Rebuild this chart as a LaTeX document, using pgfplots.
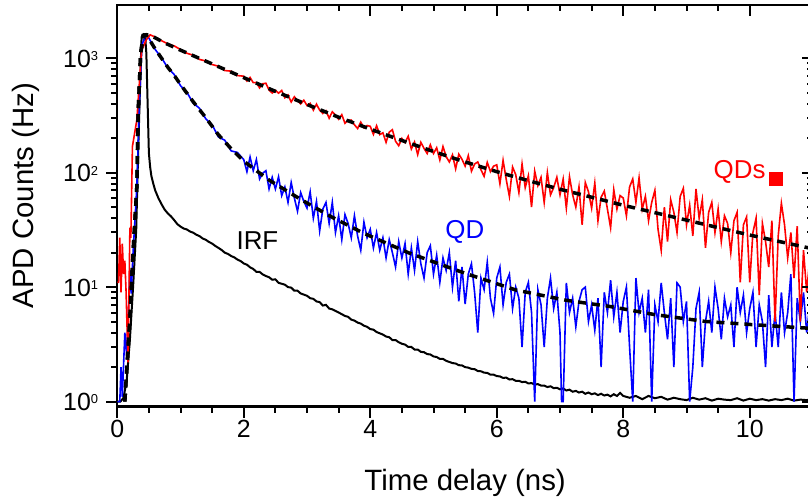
\documentclass[border=0pt]{standalone}
\usepackage{fontspec}
\setmainfont{Liberation Sans}
\usepackage{pgfplots}
\pgfplotsset{compat=1.18}
\newcommand{\tp}[1]{10\raisebox{6.6bp}{\fontsize{13}{13}\selectfont #1}}
\begin{document}
\begin{tikzpicture}
\begin{axis}[name=main, scale only axis, width=696bp, height=401.7bp,
 xmin=0, xmax=11, ymode=log, ymin=0.905, ymax=2915,
 xtick={0,2,4,6,8,10}, xticklabels={0,2,4,6,8,10}, minor x tick num=3,
 ytick={1,10,100,1000}, yticklabels={\tp{0},\tp{1},\tp{2},\tp{3}},
 xtick pos=left, ytick pos=left, tick align=outside,
 major tick length=11bp, minor tick length=6bp,
 every tick/.style={black, line width=2bp},
 axis line style={line width=2.3bp},
 ticklabel style={font=\fontsize{25}{25}\selectfont},
 xticklabel style={inner sep=0pt, anchor=base, yshift=-20bp},
 yticklabel style={inner sep=0pt, anchor=base east, yshift=-9bp, xshift=-8bp},
]
% IRF
\addplot[black, line width=2bp] coordinates {
(0.00,1.0)(0.05,1.0)(0.10,1.08)(0.15,1.55)(0.20,3.5)(0.25,10)(0.30,32)(0.33,148)(0.36,560)(0.385,1530)(0.42,1620)(0.44,1600)(0.46,1100)(0.48,405)(0.50,148)(0.52,112)(0.54,93)(0.57,80)(0.60,70)(0.65,60)(0.70,53)(0.75,47.5)(0.80,44)(0.85,41.5)(0.90,38.5)(0.95,35.5)
(1.00,33.8)(1.05,32.5)(1.10,31.9)(1.15,30.6)(1.20,29.9)(1.25,28.7)(1.30,27.9)(1.35,26.6)(1.40,25.9)(1.45,24.8)(1.50,24.0)(1.55,22.9)(1.60,22.0)(1.65,21.1)(1.70,20.0)(1.75,19.5)(1.80,18.7)(1.85,18.2)(1.90,17.4)(1.95,16.9)
(2.00,16.1)(2.05,15.7)(2.10,14.9)(2.15,14.4)(2.20,13.6)(2.25,13.6)(2.30,12.9)(2.35,12.5)(2.40,12.2)(2.45,11.6)(2.50,11.7)(2.55,10.9)(2.60,10.7)(2.65,10.5)(2.70,10.0)(2.75,9.9)(2.80,9.3)(2.85,9.3)(2.90,8.8)(2.95,8.6)
(3.00,8.4)(3.05,8.0)(3.10,7.9)(3.15,7.5)(3.20,7.4)(3.25,6.9)(3.30,7.0)(3.35,6.5)(3.40,6.4)(3.45,6.2)(3.50,6.0)(3.55,5.8)(3.60,5.6)(3.65,5.5)(3.70,5.2)(3.75,5.1)(3.80,4.9)(3.85,4.8)(3.90,4.6)(3.95,4.5)
(4.00,4.3)(4.05,4.25)(4.10,4.05)(4.15,3.95)(4.20,3.85)(4.25,3.7)(4.30,3.65)(4.35,3.45)(4.40,3.45)(4.45,3.3)(4.50,3.2)(4.55,3.15)(4.60,3.0)(4.65,3.0)(4.70,2.85)(4.75,2.85)(4.80,2.72)(4.85,2.7)(4.90,2.6)(4.95,2.58)
(5.00,2.48)(5.05,2.45)(5.10,2.36)(5.15,2.36)(5.20,2.27)(5.25,2.22)(5.30,2.17)(5.35,2.15)(5.40,2.08)(5.45,2.07)(5.50,2.0)(5.55,1.98)(5.60,1.93)(5.65,1.92)(5.70,1.85)(5.75,1.84)(5.80,1.79)(5.85,1.78)(5.90,1.72)(5.95,1.72)
(6.00,1.67)(6.05,1.66)(6.10,1.61)(6.15,1.62)(6.20,1.56)(6.25,1.57)(6.30,1.52)(6.35,1.52)(6.40,1.48)(6.45,1.49)(6.50,1.44)(6.55,1.45)(6.60,1.41)(6.65,1.42)(6.70,1.38)(6.75,1.38)(6.80,1.34)(6.85,1.36)(6.90,1.31)(6.95,1.32)
(7.00,1.28)(7.05,1.3)(7.10,1.25)(7.15,1.27)(7.20,1.22)(7.25,1.24)(7.30,1.2)(7.35,1.22)(7.40,1.17)(7.45,1.2)(7.50,1.16)(7.55,1.18)(7.60,1.14)(7.65,1.17)(7.70,1.13)(7.75,1.15)(7.80,1.11)(7.85,1.16)(7.90,1.12)(7.95,1.19)
(8.0,1.12)(8.1,1.08)(8.2,1.12)(8.3,1.05)(8.4,1.12)(8.5,1.07)(8.6,1.1)(8.7,1.04)(8.8,1.08)(8.9,1.05)
(9.0,1.03)(9.1,1.08)(9.2,1.04)(9.3,1.07)(9.4,1.02)(9.5,1.06)(9.6,1.04)(9.7,1.03)(9.8,1.07)(9.9,1.02)
(10.0,1.06)(10.1,1.03)(10.2,1.05)(10.3,1.02)(10.4,1.05)(10.5,1.03)(10.6,1.06)(10.7,1.02)(10.8,1.04)(10.9,1.03)(11.0,1.05)
};
% QD (blue)
\addplot[blue, line width=1.6bp] coordinates {
(0.00,1.0)(0.04,1.0)(0.06,2.0)(0.08,1.1)(0.12,4.0)(0.15,2.5)(0.20,14)(0.22,8.8)(0.25,20)(0.31,76)(0.35,400)(0.39,1300)(0.45,1600)
(0.5,1500)(0.6,1190)(0.7,1010)(0.8,820)(0.9,720)(1.0,575)(1.1,505)(1.2,405)(1.3,365)(1.4,295)(1.5,262)(1.6,205)(1.7,192)(1.8,155)(1.9,150)(2.0,130)
(2.05,102)(2.10,137)(2.15,104)(2.20,130)(2.25,88)(2.30,99)(2.35,104)(2.40,72)(2.45,91)(2.50,72)(2.55,92)(2.60,63)(2.65,75)(2.70,55)(2.75,82)(2.80,60)(2.85,46)(2.90,67)(2.95,56)
(3.00,49)(3.05,68)(3.10,40)(3.15,56)(3.20,31)(3.25,48)(3.30,55)(3.35,36)(3.40,55)(3.45,30)(3.50,42)(3.55,26)(3.60,43)(3.65,36)(3.70,27)(3.75,42)(3.80,28)(3.85,21)(3.90,37)(3.95,27)
(4.00,32)(4.05,22)(4.10,30)(4.15,21)(4.20,27)(4.25,18)(4.30,26)(4.35,20)(4.40,15)(4.45,25)(4.50,18)(4.55,24)(4.60,13)(4.65,22)(4.70,14)(4.75,25)(4.80,16)(4.85,12)(4.90,20)(4.95,23)
(5.00,13)(5.05,19)(5.10,11)(5.15,18)(5.20,14)(5.25,20)(5.30,10)(5.35,17)(5.40,7.5)(5.45,15)(5.50,7.1)(5.55,13)(5.60,16)(5.65,9)(5.70,4.0)(5.75,12)(5.80,9.5)(5.85,16.5)(5.90,8)(5.95,5.9)
(6.00,12)(6.05,15)(6.10,7)(6.15,11)(6.20,13)(6.25,6.5)(6.30,10)(6.35,8)(6.40,3.0)(6.45,9)(6.50,11)(6.55,6)(6.60,1.0)(6.65,9.5)(6.70,7)(6.75,3.0)(6.80,8)(6.85,12)(6.90,6.5)(6.95,9)
(7.00,4)(7.025,1.0)(7.05,1.0)(7.10,10.9)(7.15,6)(7.20,8)(7.25,4.5)(7.30,7.5)(7.35,9.5)(7.40,10)(7.45,5)(7.50,7)(7.55,4.2)(7.60,8)(7.65,2.0)(7.70,9)(7.75,6)(7.80,11.5)(7.85,5.5)(7.90,9)(7.95,4)
(8.00,7.5)(8.05,10)(8.10,3)(8.15,1.0)(8.20,12)(8.25,6)(8.30,8)(8.35,4)(8.40,9.5)(8.45,1.0)(8.50,7)(8.55,5)(8.60,10.9)(8.65,6)(8.70,3.5)(8.75,8)(8.80,2.0)(8.85,10.9)(8.90,10)(8.95,5)
(9.00,7.5)(9.05,1.0)(9.10,2.0)(9.15,6.5)(9.20,9)(9.25,2.0)(9.30,5)(9.35,7.5)(9.40,4)(9.45,10)(9.50,6.5)(9.55,3.5)(9.60,8)(9.65,5.5)(9.70,7)(9.75,3)(9.80,10)(9.85,6)(9.90,8.5)(9.95,4)
(10.00,6.5)(10.05,9)(10.10,3)(10.15,7)(10.20,5)(10.25,2.0)(10.30,8.5)(10.35,3)(10.40,6)(10.45,3)(10.50,9)(10.55,4)(10.60,6)(10.65,13)(10.70,1.0)(10.75,8)(10.80,5)(10.85,9)(10.90,4)(10.95,7)(11.0,5)
};
% QDs (red)
\addplot[red, line width=1.6bp] coordinates {
(0.00,11)(0.02,11)(0.04,27)(0.06,9)(0.08,24)(0.10,13)(0.12,17)(0.14,9)(0.17,2.2)(0.20,33)(0.215,27)(0.24,170)(0.31,290)(0.385,1170)(0.46,1450)(0.52,1600)
(0.6,1530)(0.7,1420)(0.8,1335)(0.9,1280)(1.0,1190)(1.1,1105)(1.2,1060)(1.3,975)(1.4,945)(1.5,880)(1.6,850)(1.7,780)(1.8,770)(1.9,705)
(2.00,696)(2.05,632)(2.10,678)(2.15,611)(2.20,613)(2.25,550)(2.30,598)(2.35,604)(2.40,527)(2.45,496)(2.50,523)(2.55,495)(2.60,522)(2.65,451)(2.70,477)(2.75,414)(2.80,460)(2.85,427)(2.90,399)(2.95,429)
(3.00,386)(3.05,403)(3.10,352)(3.15,397)(3.20,351)(3.25,329)(3.30,347)(3.35,299)(3.40,340)(3.45,319)(3.50,293)(3.55,321)(3.60,270)(3.65,286)(3.70,288)(3.75,262)(3.80,243)(3.85,276)(3.90,247)(3.95,258)
(4.00,254)(4.05,216)(4.10,257)(4.15,215)(4.20,223)(4.25,184)(4.30,226)(4.35,237)(4.40,188)(4.45,172)(4.50,199)(4.55,183)(4.60,208)(4.65,161)(4.70,185)(4.75,144)(4.80,184)(4.85,163)(4.90,147)(4.95,175)
(5.00,147)(5.05,165)(5.10,129)(5.15,169)(5.20,138)(5.25,124)(5.30,143)(5.35,108)(5.40,145)(5.45,131)(5.50,114)(5.55,141)(5.60,103)(5.65,119)(5.70,124)(5.75,106)(5.80,93)(5.85,123)(5.90,102)(5.95,114)
(6.00,117)(6.05,80)(6.10,128)(6.15,87)(6.20,62)(6.25,112)(6.30,96)(6.35,67)(6.40,119)(6.45,74)(6.50,94)(6.55,50)(6.60,103)(6.65,77)(6.70,91)(6.75,55)(6.80,100)(6.85,64)(6.90,74)(6.95,91)
(7.00,64)(7.05,88)(7.10,49)(7.15,92)(7.20,64)(7.25,50)(7.30,75)(7.35,35)(7.40,82)(7.45,68)(7.50,49)(7.55,81)(7.60,38)(7.65,61)(7.70,69)(7.75,48)(7.80,33)(7.85,71)(7.90,48)(7.95,63)
(8.00,60)(8.05,42)(8.10,75)(8.15,88)(8.20,55)(8.25,90)(8.30,48)(8.35,62)(8.40,38)(8.45,55)(8.50,70)(8.55,32)(8.60,21)(8.65,50)(8.70,25)(8.75,58)(8.80,45)(8.85,30)(8.90,62)(8.95,73)
(9.00,35)(9.05,52)(9.10,28)(9.15,72)(9.20,40)(9.25,58)(9.30,22)(9.35,45)(9.40,55)(9.45,30)(9.50,48)(9.55,25)(9.60,42)(9.65,36)(9.70,20)(9.75,38)(9.80,45)(9.85,11)(9.90,35)(9.95,41)
(10.00,11)(10.05,30)(10.10,40)(10.15,8.5)(10.20,36)(10.25,25)(10.30,15)(10.35,38)(10.40,5)(10.45,28)(10.50,54)(10.55,35)(10.60,18)(10.65,30)(10.70,12)(10.75,34)(10.80,5)(10.85,21)(10.90,9)(10.95,18)(11.0,14)
};
% fits
\addplot[black, line width=3.5bp, dash pattern=on 8bp off 6bp] coordinates {
(0.12,1.0)(0.15,1.9)(0.20,5.2)(0.25,20)(0.31,76)(0.33,330)(0.37,1100)(0.41,1580)(0.45,1600)(0.52,1590)(0.75,1360)(1.0,1175)(1.5,891)(2.0,676)(2.5,513)(3.0,394)(3.5,305)(4.0,240)(4.5,191)(5.0,153)(5.5,124)(6.0,102)(6.5,85.1)(7.0,71.6)(7.5,61.0)(8.0,51.9)(8.5,44.7)(9.0,38.5)(9.5,33.1)(10.0,28.5)(10.5,24.8)(11.0,21.6)
};
\addplot[black, line width=3.5bp, dash pattern=on 8bp off 6bp] coordinates {
(0.12,1.0)(0.15,1.9)(0.20,5.2)(0.25,20)(0.31,76)(0.33,330)(0.37,1100)(0.41,1580)(0.45,1600)(0.5,1479)(0.6,1202)(0.7,1000)(0.8,832)(0.9,708)(1.0,589)(1.2,417)(1.4,302)(1.6,214)(1.8,162)(2.0,126)(2.4,86.1)(2.8,63.1)(3.0,54.3)(3.4,40.7)(3.9,29.5)(4.6,20.0)(5.5,13.2)(6.3,9.44)(7.1,7.67)(7.8,6.76)(8.5,5.75)(9.3,5.01)(10.1,4.68)(11.0,4.35)
};
\addplot[only marks, mark=square*, red, mark size=6.5bp] coordinates {(10.41,89.3)};
\node[red, font=\fontsize{26}{26}\selectfont] at (axis cs:9.84,102) {QDs};
\node[blue, font=\fontsize{26}{26}\selectfont] at (axis cs:5.495,30.5) {QD};
\node[black, font=\fontsize{26}{26}\selectfont] at (axis cs:2.216,25.4) {IRF};
\end{axis}
\begin{axis}[at={(main.south west)}, anchor=south west, scale only axis, width=696bp, height=401.7bp,
 xmin=0, xmax=11, ymode=log, ymin=0.905, ymax=2915,
 xtick={0,2,4,6,8,10}, minor x tick num=3, ytick={1,10,100,1000},
 xtick pos=right, ytick pos=right, tick align=inside,
 xticklabels={}, yticklabels={}, axis line style={draw=none},
 major tick length=11bp, minor tick length=6bp,
 every tick/.style={black, line width=2bp}]
\end{axis}
\node[rotate=90, font=\fontsize{29.5}{30}\selectfont, inner sep=0pt] at ([xshift=-91.3bp, yshift=10bp]main.west) {APD Counts (Hz)};
\node[anchor=base, font=\fontsize{29.5}{30}\selectfont, inner sep=0pt] at ([yshift=-84.3bp]main.south) {Time delay (ns)};
\pgfresetboundingbox
\path[use as bounding box] ([xshift=-117.3bp, yshift=-97.3bp]main.south west) rectangle ([xshift=-5bp, yshift=5bp]main.north east);
\end{tikzpicture}
\end{document}
